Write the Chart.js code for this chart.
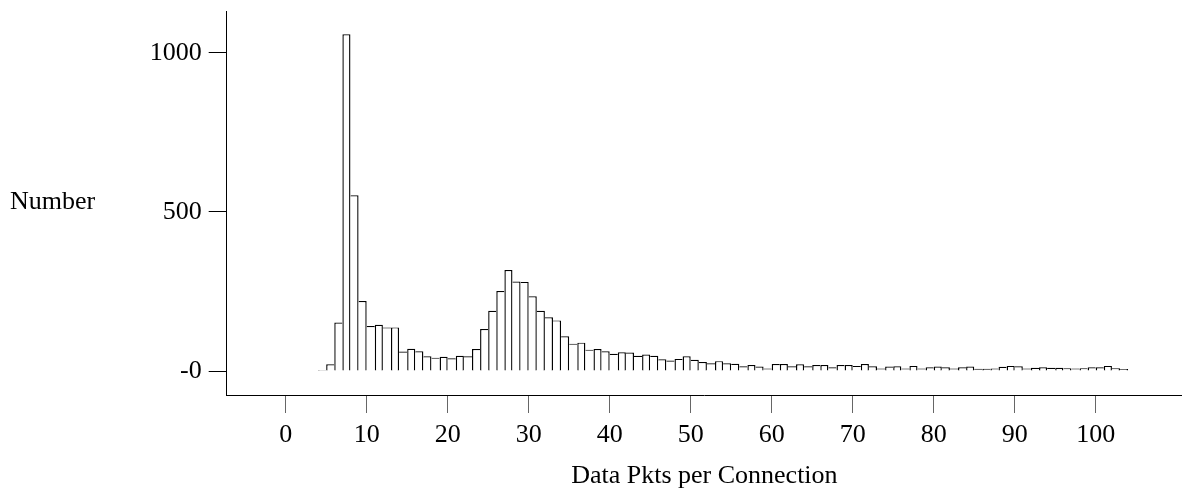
<!DOCTYPE html>
<html>
<head>
<meta charset="utf-8">
<title>Data Pkts per Connection</title>
<script src="https://cdn.jsdelivr.net/npm/chart.js@4/dist/chart.umd.min.js"></script>
<style>
  html, body { margin: 0; padding: 0; background: #fff; }
  #wrap { width: 1182px; height: 488px; }
</style>
</head>
<body>
<div id="wrap"><canvas id="pktChart" width="1182" height="488"></canvas></div>
<script>
// histogram bins (lower edge of each 1-packet bin)
const pktBins = [
  4, 5, 6, 7, 8, 9, 10, 11, 12, 13, 14, 15, 16, 17, 18, 19, 20, 21, 22, 23,
  24, 25, 26, 27, 28, 29, 30, 31, 32, 33, 34, 35, 36, 37, 38, 39, 40, 41, 42, 43,
  44, 45, 46, 47, 48, 49, 50, 51, 52, 53, 54, 55, 56, 57, 58, 59, 60, 61, 62, 63,
  64, 65, 66, 67, 68, 69, 70, 71, 72, 73, 74, 75, 76, 77, 78, 79, 80, 81, 82, 83,
  84, 85, 86, 87, 88, 89, 90, 91, 92, 93, 94, 95, 96, 97, 98, 99, 100, 101, 102, 103
];
// number of connections in each bin
const connCounts = [
  3, 21, 152, 1058, 552, 220, 141, 145, 137, 137, 61, 70, 62, 46, 42, 45, 40, 48, 46, 69,
  132, 189, 251, 317, 281, 280, 235, 189, 169, 159, 109, 86, 89, 67, 69, 62, 54, 59, 58, 48,
  52, 48, 37, 33, 38, 46, 35, 28, 24, 31, 24, 23, 15, 19, 14, 8, 22, 22, 15, 21,
  15, 19, 19, 12, 19, 19, 16, 22, 15, 8, 14, 15, 8, 16, 8, 12, 14, 12, 8, 12,
  14, 7, 7, 8, 13, 16, 15, 8, 10, 12, 10, 10, 9, 8, 9, 12, 12, 16, 9, 6
];

const xTickValues = [0, 10, 20, 30, 40, 50, 60, 70, 80, 90, 100];
const yTickValues = [0, 500, 1000];
const yTickLabels = ['-0', '500', '1000'];

const FONT = '"Liberation Serif", "Times New Roman", serif';
const EDGE = 1.4;

// each shared edge is drawn once, by the taller of the two neighbours
function edgeWidths(ctx) {
  const i = ctx.dataIndex;
  const n = connCounts.length;
  const h = connCounts[i];
  const left = (i === 0 || h >= connCounts[i - 1]) ? EDGE : 0;
  const right = (i === n - 1 || h > connCounts[i + 1]) ? EDGE : 0;
  return { top: 1.2, left: left, right: right, bottom: 0 };
}

const axisText = {
  id: 'axisText',
  afterDraw(chart) {
    const { ctx, chartArea } = chart;
    ctx.save();
    ctx.fillStyle = '#000';
    ctx.font = '26px ' + FONT;
    ctx.textBaseline = 'alphabetic';
    ctx.textAlign = 'left';
    ctx.fillText('Number', 10, 209);
    ctx.textAlign = 'center';
    ctx.fillText('Data Pkts per Connection', (chartArea.left + chartArea.right) / 2, 483);
    ctx.restore();
  }
};

new Chart(document.getElementById('pktChart'), {
  type: 'bar',
  data: {
    datasets: [{
      label: 'Number',
      data: pktBins.map((b, i) => ({ x: b + 0.5, y: connCounts[i] })),
      backgroundColor: '#fff',
      borderColor: '#000',
      borderWidth: edgeWidths,
      borderSkipped: 'start',
      inflateAmount: 0,
      barPercentage: 1,
      categoryPercentage: 1
    }]
  },
  options: {
    responsive: false,
    animation: false,
    events: [],
    layout: { padding: { top: 11, right: 0, bottom: 0, left: 0 } },
    plugins: { legend: { display: false }, tooltip: { enabled: false } },
    scales: {
      x: {
        type: 'linear',
        offset: false,
        min: -7.28,
        max: 110.65,
        afterBuildTicks: s => { s.ticks = xTickValues.map(v => ({ value: v })); },
        afterFit: s => {
          s.height = 93;
          s.paddingLeft = 0;
          s.paddingRight = 0;
        },
        border: { display: true, color: '#000', width: 1, dash: [12, 1.33] },
        grid: {
          offset: false,
          drawOnChartArea: false,
          drawTicks: true,
          tickLength: 18,
          tickColor: '#666',
          tickWidth: 1
        },
        ticks: {
          color: '#000',
          padding: 7,
          maxRotation: 0,
          autoSkip: false,
          font: { family: FONT, size: 26 }
        }
      },
      y: {
        min: -75.4,
        max: 1131,
        afterBuildTicks: s => { s.ticks = yTickValues.map(v => ({ value: v })); },
        afterFit: s => {
          s.width = 226.7;
          s.paddingTop = 0;
          s.paddingBottom = 0;
        },
        border: { display: true, color: '#000', width: 1 },
        grid: {
          drawOnChartArea: false,
          drawTicks: true,
          tickLength: 18,
          tickColor: '#000',
          tickWidth: 1
        },
        ticks: {
          color: '#000',
          padding: 7,
          font: { family: FONT, size: 26 },
          callback: v => yTickLabels[yTickValues.indexOf(v)]
        }
      }
    }
  },
  plugins: [axisText]
});
</script>
</body>
</html>
